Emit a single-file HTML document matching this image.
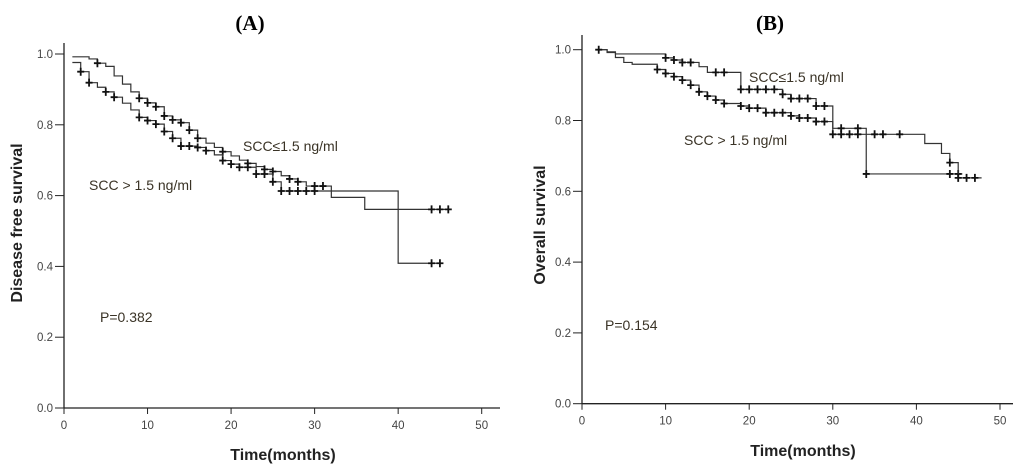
<!DOCTYPE html>
<html><head><meta charset="utf-8"><style>
html,body{margin:0;padding:0;background:#fff;width:1024px;height:473px;overflow:hidden}
svg{display:block}
.tick{font:11.5px "Liberation Sans",sans-serif;fill:#444}
.ann{font:14px "Liberation Sans","DejaVu Sans",sans-serif;fill:#3a3326}
.axt{font:bold 16px "Liberation Sans",sans-serif;fill:#222}
.ttl{font:bold 21px "Liberation Serif",serif;fill:#000}
</style></head><body>
<svg id="chart" width="1024" height="473" viewBox="0 0 1024 473" xmlns="http://www.w3.org/2000/svg">
<text class="ttl" x="250" y="30" text-anchor="middle">(A)</text>
<text class="ttl" x="770" y="30" text-anchor="middle">(B)</text>
<text class="axt" transform="translate(22,223) rotate(-90)" text-anchor="middle">Disease free survival</text>
<text class="axt" transform="translate(545,225) rotate(-90)" text-anchor="middle">Overall survival</text>
<text class="axt" x="283" y="460" text-anchor="middle">Time(months)</text>
<text class="axt" x="803" y="456" text-anchor="middle">Time(months)</text>
<text class="ann" x="243" y="151">SCC≤1.5 ng/ml</text>
<text class="ann" x="89" y="190">SCC &gt; 1.5 ng/ml</text>
<text class="ann" x="100" y="322">P=0.382</text>
<text class="ann" x="749" y="82">SCC≤1.5 ng/ml</text>
<text class="ann" x="684" y="145">SCC &gt; 1.5 ng/ml</text>
<text class="ann" x="605" y="330">P=0.154</text>
</svg>
<script>
// Panel A data
const aLowStart = [1, 0.992];
const aLowTimes = [3,4,5,6,7,8,9,10,11,12,13,14,15,16,17,18,19,20,21,22,23,24,25,26,27,28,29,32,36];
const aLowSurv = [0.986,0.974,0.965,0.938,0.915,0.893,0.875,0.862,0.851,0.825,0.814,0.806,0.785,0.762,0.748,0.736,0.724,0.712,0.70,0.691,0.682,0.674,0.668,0.656,0.647,0.639,0.627,0.595,0.561];
const aLowEnd = 46;
const aLowCens = [4,9,10,11,12,13,14,15,16,19,22,24,25,27,28,30,31,44,45,46];
const aHighStart = [1, 0.976];
const aHighTimes = [2,3,4,5,6,7,8,9,10,11,12,13,14,16,17,18,19,20,21,23,25,26,40];
const aHighSurv = [0.95,0.919,0.906,0.893,0.878,0.861,0.842,0.821,0.812,0.802,0.781,0.762,0.74,0.736,0.727,0.715,0.699,0.689,0.68,0.661,0.639,0.613,0.409];
const aHighEnd = 45;
const aHighCens = [2,3,5,6,9,10,11,12,13,14,15,16,17,19,20,21,22,23,24,25,26,27,28,29,30,44,45];
// Panel B data
const bLowStart = [2, 1.0];
const bLowTimes = [3,4,10,11,12,14,15,19,24,25,28,30,34];
const bLowSurv = [0.994,0.988,0.977,0.971,0.964,0.952,0.936,0.888,0.874,0.862,0.841,0.778,0.649];
const bLowEnd = 45.5;
const bLowCens = [10,11,12,13,16,17,19,20,21,22,23,24,25,26,27,28,29,31,33,34,44,45];
const bHighStart = [2, 1.0];
const bHighTimes = [3,4,5,6,9,10,11,12,13,14,15,16,17,19,20,22,25,26,28,30,41,43,44,45];
const bHighSurv = [0.992,0.978,0.964,0.959,0.944,0.933,0.924,0.914,0.90,0.881,0.869,0.858,0.848,0.841,0.835,0.822,0.813,0.807,0.797,0.761,0.735,0.707,0.681,0.638];
const bHighEnd = 47.8;
const bHighCens = [2,9,10,11,12,13,14,15,16,17,19,20,21,22,23,24,25,26,27,28,29,30,31,32,33,35,36,38,44,45,46,47];
const xTicks = ["0","10","20","30","40","50"];
const yTicks = ["0.0","0.2","0.4","0.6","0.8","1.0"];

const NS = "http://www.w3.org/2000/svg";
const svg = document.getElementById('chart');
function mk(tag, attrs, parent){
  const e = document.createElementNS(NS, tag);
  for (const k in attrs) e.setAttribute(k, attrs[k]);
  (parent||svg).appendChild(e);
  return e;
}
function panel(id, x0, x1, y0, y1, axTop, axRight, series){
  const g = mk('g', {});
  
  
  const sx = t => x0 + (x1 - x0) * t / 50;
  const sy = v => y0 - (y0 - y1) * v;
  const yax = mk('line', {x1:x0, y1:axTop, x2:x0, y2:y0, stroke:'#222', 'stroke-width':1.3}, g);
  
  
  const xax = mk('line', {x1:x0, y1:y0, x2:axRight, y2:y0, stroke:'#222', 'stroke-width':1.3}, g);
  
  
  yTicks.forEach(lbl => {
    const y = sy(parseFloat(lbl));
    mk('line', {x1:x0-9, y1:y, x2:x0, y2:y, stroke:'#222', 'stroke-width':1}, g);
    const t = mk('text', {x:x0-11, y:y+4, 'text-anchor':'end', class:'tick'}, g);
    t.textContent = lbl;
    
    
  });
  xTicks.forEach(lbl => {
    const x = sx(parseFloat(lbl));
    mk('line', {x1:x, y1:y0, x2:x, y2:y0+6, stroke:'#222', 'stroke-width':1}, g);
    const t = mk('text', {x:x, y:y0+21, 'text-anchor':'middle', class:'tick'}, g);
    t.textContent = lbl;
    
    
  });
  series.forEach(s => {
    let d = 'M' + sx(s.start[0]) + ' ' + sy(s.start[1]);
    s.times.forEach((t, i) => {
      d += ' H' + sx(t) + ' V' + sy(s.surv[i]);
    });
    d += ' H' + sx(s.end);
    const p = mk('path', {d:d, fill:'none', stroke:'#333', 'stroke-width':1.2}, g);
    
    
    const valAt = t => {
      let v = s.start[1];
      s.times.forEach((tt, i) => { if (tt <= t) v = s.surv[i]; });
      return v;
    };
    s.cens.forEach(t => {
      const cx = sx(t), cy = sy(valAt(t));
      const c = mk('path', {d:'M'+(cx-3.5)+' '+cy+' H'+(cx+3.5)+' M'+cx+' '+(cy-4)+' V'+(cy+4), stroke:'#111', 'stroke-width':1.8, fill:'none'}, g);
      
      
    });
  });
}
panel('panel-a', 64, 481.7, 408, 54, 43, 500, [
  {name:'scc-low', start:aLowStart, times:aLowTimes, surv:aLowSurv, end:aLowEnd, cens:aLowCens},
  {name:'scc-high', start:aHighStart, times:aHighTimes, surv:aHighSurv, end:aHighEnd, cens:aHighCens}
]);
panel('panel-b', 582, 1000, 403.7, 49.7, 35, 1013, [
  {name:'scc-low', start:bLowStart, times:bLowTimes, surv:bLowSurv, end:bLowEnd, cens:bLowCens},
  {name:'scc-high', start:bHighStart, times:bHighTimes, surv:bHighSurv, end:bHighEnd, cens:bHighCens}
]);
</script>
</body></html>
